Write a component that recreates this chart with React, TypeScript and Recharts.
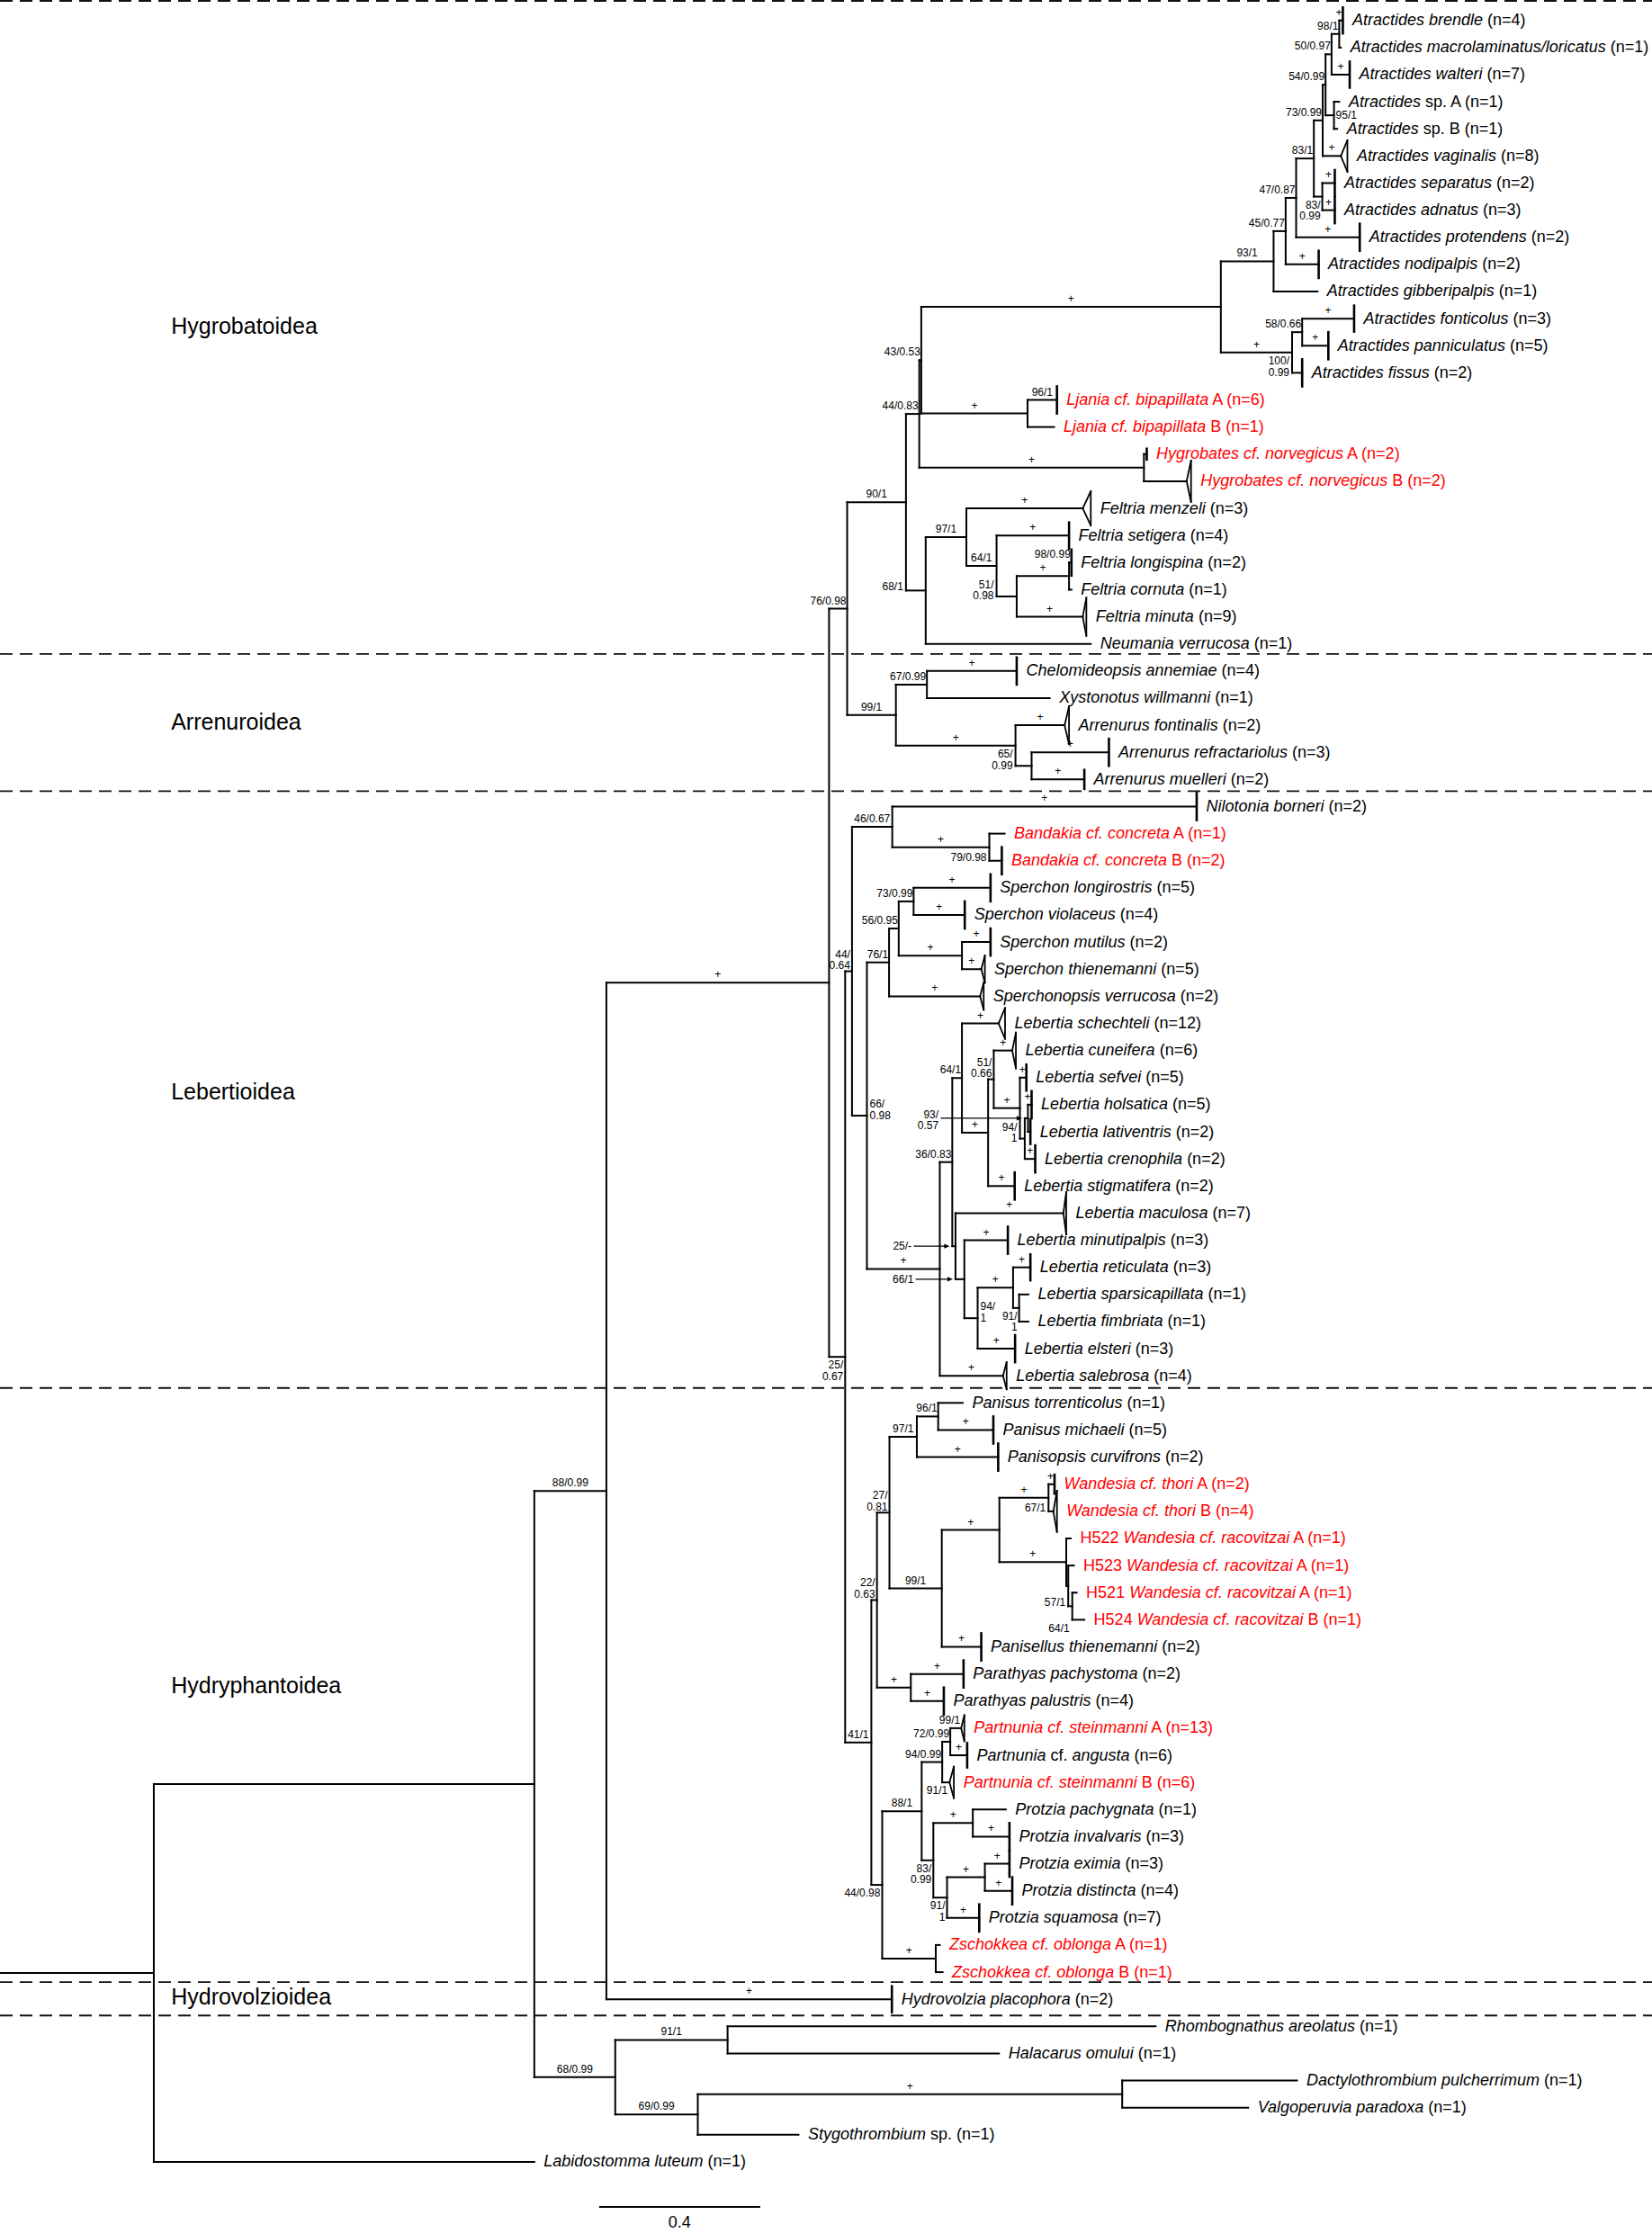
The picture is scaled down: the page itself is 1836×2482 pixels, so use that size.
import React from "react";
import { ScatterChart, XAxis, YAxis, ReferenceLine, Scatter } from "recharts";

const CHART_W = 1836;
const CHART_H = 2482;
const X_MAX = 4.1028; // branch-length units across the full width
const ROW_MIN = -0.7534;
const ROW_MAX = 81.623;
const PXU = CHART_W / X_MAX;
const FONT = '"Liberation Sans", Arial, Helvetica, sans-serif';
const RED = "#ff0000";

// ---------- leaves (terminal taxa, top to bottom); *...* = italic ----------
const leafNames: string[] = [
  "*Atractides brendle* (n=4)",
  "*Atractides macrolaminatus/loricatus* (n=1)",
  "*Atractides walteri* (n=7)",
  "*Atractides* sp. A (n=1)",
  "*Atractides* sp. B (n=1)",
  "*Atractides vaginalis* (n=8)",
  "*Atractides separatus* (n=2)",
  "*Atractides adnatus* (n=3)",
  "*Atractides protendens* (n=2)",
  "*Atractides nodipalpis* (n=2)",
  "*Atractides gibberipalpis* (n=1)",
  "*Atractides fonticolus* (n=3)",
  "*Atractides panniculatus* (n=5)",
  "*Atractides fissus* (n=2)",
  "*Ljania cf. bipapillata* A (n=6)",
  "*Ljania cf. bipapillata* B (n=1)",
  "*Hygrobates cf. norvegicus* A (n=2)",
  "*Hygrobates cf. norvegicus* B (n=2)",
  "*Feltria menzeli* (n=3)",
  "*Feltria setigera* (n=4)",
  "*Feltria longispina* (n=2)",
  "*Feltria cornuta* (n=1)",
  "*Feltria minuta* (n=9)",
  "*Neumania verrucosa* (n=1)",
  "*Chelomideopsis annemiae* (n=4)",
  "*Xystonotus willmanni* (n=1)",
  "*Arrenurus fontinalis* (n=2)",
  "*Arrenurus refractariolus* (n=3)",
  "*Arrenurus muelleri* (n=2)",
  "*Nilotonia borneri* (n=2)",
  "*Bandakia cf. concreta* A (n=1)",
  "*Bandakia cf. concreta* B (n=2)",
  "*Sperchon longirostris* (n=5)",
  "*Sperchon violaceus* (n=4)",
  "*Sperchon mutilus* (n=2)",
  "*Sperchon thienemanni* (n=5)",
  "*Sperchonopsis verrucosa* (n=2)",
  "*Lebertia schechteli* (n=12)",
  "*Lebertia cuneifera* (n=6)",
  "*Lebertia sefvei* (n=5)",
  "*Lebertia holsatica* (n=5)",
  "*Lebertia lativentris* (n=2)",
  "*Lebertia crenophila* (n=2)",
  "*Lebertia stigmatifera* (n=2)",
  "*Lebertia maculosa* (n=7)",
  "*Lebertia minutipalpis* (n=3)",
  "*Lebertia reticulata* (n=3)",
  "*Lebertia sparsicapillata* (n=1)",
  "*Lebertia fimbriata* (n=1)",
  "*Lebertia elsteri* (n=3)",
  "*Lebertia salebrosa* (n=4)",
  "*Panisus torrenticolus* (n=1)",
  "*Panisus michaeli* (n=5)",
  "*Panisopsis curvifrons* (n=2)",
  "*Wandesia cf. thori* A (n=2)",
  "*Wandesia cf. thori* B (n=4)",
  "H522 *Wandesia cf. racovitzai* A (n=1)",
  "H523 *Wandesia cf. racovitzai* A (n=1)",
  "H521 *Wandesia cf. racovitzai* A (n=1)",
  "H524 *Wandesia cf. racovitzai* B (n=1)",
  "*Panisellus thienemanni* (n=2)",
  "*Parathyas pachystoma* (n=2)",
  "*Parathyas palustris* (n=4)",
  "*Partnunia cf. steinmanni* A (n=13)",
  "*Partnunia* cf. *angusta* (n=6)",
  "*Partnunia cf. steinmanni* B (n=6)",
  "*Protzia pachygnata* (n=1)",
  "*Protzia invalvaris* (n=3)",
  "*Protzia eximia* (n=3)",
  "*Protzia distincta* (n=4)",
  "*Protzia squamosa* (n=7)",
  "*Zschokkea cf. oblonga* A (n=1)",
  "*Zschokkea cf. oblonga* B (n=1)",
  "*Hydrovolzia placophora* (n=2)",
  "*Rhombognathus areolatus* (n=1)",
  "*Halacarus omului* (n=1)",
  "*Dactylothrombium pulcherrimum* (n=1)",
  "*Valgoperuvia paradoxa* (n=1)",
  "*Stygothrombium* sp. (n=1)",
  "*Labidostomma luteum* (n=1)",
];

const redLeaves: number[] = [14, 15, 16, 17, 30, 31, 54, 55, 56, 57, 58, 59, 63, 65, 71, 72];

// depth (distance from left edge, substitutions/site) of each leaf tip
const leafDepths: number[] = [
  3.335, 3.33, 3.352, 3.326, 3.321, 3.33, 3.315, 3.315, 3.377, 3.275,
  3.272, 3.363, 3.299, 3.234, 2.625, 2.618, 2.848, 2.947, 2.689, 2.655,
  2.661, 2.661, 2.689, 2.709, 2.525, 2.607, 2.644, 2.754, 2.693, 2.972,
  2.495, 2.488, 2.46, 2.396, 2.46, 2.437, 2.434, 2.48, 2.514, 2.549,
  2.562, 2.559, 2.571, 2.52, 2.641, 2.503, 2.559, 2.554, 2.554, 2.521,
  2.491, 2.391, 2.467, 2.479, 2.619, 2.616, 2.659, 2.667, 2.674, 2.693,
  2.437, 2.393, 2.344, 2.387, 2.402, 2.358, 2.498, 2.507, 2.507, 2.514,
  2.432, 2.334, 2.341, 2.215, 2.87, 2.481, 3.221, 3.1, 1.983, 1.327,
];

// collapsed clades: [leaf, triangle depth (units), half height (rows)]; depth 0 = bar
const collapsedClades: [number, number, number][] = [
  [0, 0, 0.48], [2, 0, 0.48], [5, 0.0163, 0.58], [6, 0, 0.48], [7, 0, 0.48], [8, 0, 0.5],
  [9, 0, 0.5], [11, 0, 0.48], [12, 0, 0.5], [13, 0, 0.5], [14, 0, 0.5], [16, 0, 0.2],
  [17, 0.011, 0.76], [18, 0.02, 0.63], [19, 0, 0.48], [20, 0, 0.48], [22, 0.009, 0.7],
  [24, 0, 0.5], [26, 0.011, 0.7], [27, 0, 0.5], [28, 0, 0.35], [29, 0, 0.5], [31, 0, 0.5],
  [32, 0, 0.5], [33, 0, 0.5], [34, 0, 0.5], [35, 0.009, 0.5], [36, 0.009, 0.5],
  [37, 0.016, 0.57], [38, 0.009, 0.66], [39, 0, 0.48], [40, 0, 0.5], [41, 0, 0.45],
  [42, 0, 0.5], [43, 0, 0.5], [44, 0.007, 0.78], [45, 0, 0.5], [46, 0, 0.48], [49, 0, 0.5],
  [50, 0.009, 0.5], [52, 0, 0.5], [53, 0, 0.5], [54, 0, 0.35], [55, 0.009, 0.76],
  [60, 0, 0.5], [61, 0, 0.5], [62, 0, 0.5], [63, 0.008, 0.48], [64, 0, 0.45],
  [65, 0.011, 0.58], [67, 0, 0.5], [68, 0, 0.48], [69, 0, 0.5], [70, 0, 0.5], [73, 0, 0.48],
];

// internal nodes: [id, depth, children]  (numbers = leaf rows)
const internalNodes: [string, number, (string | number)[]][] = [
  ["root", 0.382, ["A", 79]],
  ["A", 1.327, ["B", "C"]],
  ["B", 1.506, ["W", 73]],
  ["C", 1.528, ["D", "E"]],
  ["D", 1.807, [74, 75]],
  ["E", 1.733, ["DV", 78]],
  ["DV", 2.787, [76, 77]],
  ["W", 2.059, ["H0", "L0"]],
  ["H0", 2.104, ["Hyg", "A0"]],
  ["Hyg", 2.25, ["X2", "F0"]],
  ["X2", 2.283, ["X1", "Hgb"]],
  ["X1", 2.288, ["AT0", "Lj"]],
  ["AT0", 3.032, ["P", "G"]],
  ["P", 3.163, ["Q", 10]],
  ["Q", 3.193, ["R", 9]],
  ["R", 3.219, ["S", 8]],
  ["S", 3.263, ["U", "T"]],
  ["U", 3.285, ["N54", 5]],
  ["N54", 3.292, ["N50", "N95"]],
  ["N50", 3.307, ["N98", 2]],
  ["N98", 3.326, [0, 1]],
  ["N95", 3.313, [3, 4]],
  ["T", 3.284, [6, 7]],
  ["G", 3.209, ["G1", 13]],
  ["G1", 3.234, [11, 12]],
  ["Lj", 2.552, [14, 15]],
  ["Hgb", 2.841, [16, 17]],
  ["F0", 2.299, ["F1", 23]],
  ["F1", 2.4, [18, "F2"]],
  ["F2", 2.475, [19, "F3"]],
  ["F3", 2.525, ["F4", 22]],
  ["F4", 2.655, [20, 21]],
  ["A0", 2.225, ["A1", "A2"]],
  ["A1", 2.302, [24, 25]],
  ["A2", 2.522, [26, "A3"]],
  ["A3", 2.562, [27, 28]],
  ["L0", 2.099, ["L1", "D0"]],
  ["L1", 2.116, ["L2", "L3"]],
  ["L2", 2.216, [29, "L4"]],
  ["L4", 2.457, [30, 31]],
  ["L3", 2.153, ["L5", "L6"]],
  ["L5", 2.208, ["L7", 36]],
  ["L7", 2.232, ["L8", "L9"]],
  ["L8", 2.269, [32, 33]],
  ["L9", 2.389, [34, 35]],
  ["L6", 2.334, ["L10", 50]],
  ["L10", 2.365, ["L11", "L12"]],
  ["L11", 2.389, [37, "L13"]],
  ["L13", 2.454, ["L14", 43]],
  ["L14", 2.468, [38, "L15"]],
  ["L15", 2.533, [39, "L16"]],
  ["L16", 2.545, ["N93", 42]],
  ["N93", 2.553, [40, 41]],
  ["L12", 2.373, [44, "L17"]],
  ["L17", 2.395, [45, "L18"]],
  ["L18", 2.428, ["L19", 49]],
  ["L19", 2.516, [46, "L20"]],
  ["L20", 2.531, [47, 48]],
  ["D0", 2.164, ["D1", "D2"]],
  ["D1", 2.178, ["D3", "D4"]],
  ["D3", 2.209, ["D5", "D6"]],
  ["D5", 2.277, ["D7", 53]],
  ["D7", 2.33, [51, 52]],
  ["D6", 2.339, ["D8", 60]],
  ["D8", 2.482, ["D9", "D10"]],
  ["D9", 2.604, [54, 55]],
  ["D10", 2.648, [56, "D11"]],
  ["D11", 2.653, [57, "D12"]],
  ["D12", 2.663, [58, 59]],
  ["D4", 2.262, [61, 62]],
  ["D2", 2.191, ["D13", "D14"]],
  ["D13", 2.289, ["D15", "D16"]],
  ["D15", 2.34, ["D17", 65]],
  ["D17", 2.36, [63, 64]],
  ["D16", 2.318, ["P1", "P3"]],
  ["P1", 2.416, [66, 67]],
  ["P3", 2.352, ["P2", 70]],
  ["P2", 2.446, [68, 69]],
  ["D14", 2.324, [71, 72]],
];

// support values (bootstrap / posterior): [node, text, placement, extra dy]
const supportLabels: [string | number, string, string, number?][] = [
  ["B", "88/0.99", "c"], ["C", "68/0.99", "c"], ["D", "91/1", "c"], ["E", "69/0.99", "c"],
  ["DV", "+", "c"], ["W", "+", "c"], [73, "+", "c"], ["H0", "76/0.98", "c"],
  ["Hyg", "90/1", "c"], ["X2", "44/0.83", "c"], ["X1", "43/0.53", "c"], ["AT0", "+", "c"],
  ["P", "93/1", "c"], ["Q", "45/0.77", "c"], ["R", "47/0.87", "c"], ["S", "83/1", "c"],
  ["U", "73/0.99", "c"], ["N54", "54/0.99", "c"], ["N50", "50/0.97", "c"], ["N98", "98/1", "c"],
  [0, "+", "c"], [2, "+", "c"], ["N95", "95/1", "n1"], [5, "+", "c"], ["T", "83/\n0.99", "rb"],
  [6, "+", "c"], [7, "+", "c"], [8, "+", "c"], [9, "+", "c"], ["G", "+", "c"],
  ["G1", "58/0.66", "c"], [11, "+", "c"], [12, "+", "c"], [13, "100/\n0.99", "pa2"],
  ["Lj", "+", "c"], [14, "96/1", "c"], ["Hgb", "+", "c"], ["F0", "68/1", "pa1"],
  ["F1", "97/1", "c"], [18, "+", "c"], [19, "+", "c"], ["F2", "64/1", "c"],
  ["F3", "51/\n0.98", "pa2"], ["F4", "+", "c"], [20, "98/0.99", "c"], [22, "+", "c"],
  ["A0", "99/1", "c"], ["A1", "67/0.99", "c"], [24, "+", "c"], ["A2", "+", "c"], [26, "+", "c"],
  ["A3", "65/\n0.99", "pa2"], [27, "+", "c"], [28, "+", "c"],
  ["L0", "25/\n0.67", "rb"], ["L1", "44/\n0.64", "ra2"], ["L2", "46/0.67", "c"], [29, "+", "c"],
  ["L4", "+", "c"], [31, "79/0.98", "pa1"], ["L3", "66/\n0.98", "na2"], ["L5", "76/1", "c"],
  ["L7", "56/0.95", "c"], ["L8", "73/0.99", "c"], [32, "+", "c"], [33, "+", "c"], ["L9", "+", "c"],
  [34, "+", "c"], [35, "+", "c"], [36, "+", "c"], ["L6", "+", "c"], ["L10", "36/0.83", "c"],
  ["L11", "64/1", "c"], [37, "+", "c"], ["L13", "+", "c"], ["L14", "51/\n0.66", "ra2"],
  [38, "+", "c"], ["L15", "+", "c"], [39, "+", "c"], [40, "+", "c"], [42, "+", "c"],
  ["L16", "94/\n1", "pa2"], [43, "+", "c"], [44, "+", "c"], [45, "+", "c"], ["L18", "94/\n1", "na2"],
  ["L19", "+", "c"], [46, "+", "c"], ["L20", "91/\n1", "rb"], [49, "+", "c"], [50, "+", "c"],
  ["D0", "41/1", "c"], ["D1", "22/\n0.63", "ra2"], ["D3", "27/\n0.81", "ra2"], ["D4", "+", "c"],
  [61, "+", "c"], [62, "+", "c"], ["D5", "97/1", "c"], ["D7", "96/1", "c"], [52, "+", "c"],
  [53, "+", "c"], ["D6", "99/1", "c"], ["D8", "+", "c"], ["D9", "+", "c"], [54, "+", "c"],
  [55, "67/1", "pa1"], ["D10", "+", "c"], ["D12", "57/1", "pa1"], [59, "64/1", "pa1", 14],
  [60, "+", "c"], ["D2", "44/0.98", "rb"], ["D13", "88/1", "c"], ["D15", "94/0.99", "c"],
  ["D17", "72/0.99", "c"], [63, "99/1", "c"], [64, "+", "c"], [65, "91/1", "rb"],
  ["D16", "83/\n0.99", "rb"], ["P1", "+", "c"], [67, "+", "c"], ["P3", "91/\n1", "rb"],
  ["P2", "+", "c"], [68, "+", "c"], [69, "+", "c"], [70, "+", "c"], ["D14", "+", "c"],
];

// support values drawn with a pointer arrow: [node, text, label right edge (units)]
const arrowLabels: [string, string, number][] = [
  ["N93", "93/\n0.57", 2.331],
  ["L12", "25/-", 2.264],
  ["L17", "66/1", 2.269],
];

const superfamilies: [string, number][] = [
  ["Hygrobatoidea", 11.27],
  ["Arrenuroidea", 25.88],
  ["Lebertioidea", 39.5],
  ["Hydryphantoidea", 61.42],
  ["Hydrovolzioidea", 72.9],
];
const superfamilyX = 0.425;

const separatorRows: number[] = [-0.72, 23.37, 28.43, 50.45, 72.37, 73.6];

const scaleBarStart = 1.488;
const scaleBarLength = 0.4;
const scaleBarRow = 80.66;

// ---------------- tree geometry from the data ----------------
const nodeMap = new Map(internalNodes.map((n) => [n[0], n]));
const keyOf = (c: string | number) => (typeof c === "number" ? "#" + c : c);
const parentOf: Record<string, string> = {};
internalNodes.forEach(([id, , ch]) => ch.forEach((c) => (parentOf[keyOf(c)] = id)));
const xOf = (k: string): number =>
  k.startsWith("#") ? leafDepths[+k.slice(1)] : (nodeMap.get(k) as any)[1];
const yCache: Record<string, number> = {};
const yOf = (k: string): number => {
  if (k.startsWith("#")) return +k.slice(1);
  if (yCache[k] !== undefined) return yCache[k];
  const ch = (nodeMap.get(k) as any)[2] as (string | number)[];
  const v = (yOf(keyOf(ch[0])) + yOf(keyOf(ch[ch.length - 1]))) / 2;
  yCache[k] = v;
  return v;
};

type Seg = { x1: number; y1: number; x2: number; y2: number; w: number };
const segments: Seg[] = [];
segments.push({ x1: 0, y1: yOf("root"), x2: xOf("root"), y2: yOf("root"), w: 2 });
internalNodes.forEach(([id, x, ch]) => {
  const ys = ch.map((c) => yOf(keyOf(c)));
  segments.push({ x1: x, y1: ys[0], x2: x, y2: ys[ys.length - 1], w: 2 });
  ch.forEach((c) => {
    const k = keyOf(c);
    segments.push({ x1: x, y1: yOf(k), x2: xOf(k), y2: yOf(k), w: 2 });
  });
});
const cladeWidth: Record<number, number> = {};
collapsedClades.forEach(([i, tw, th]) => {
  const x0 = leafDepths[i];
  cladeWidth[i] = tw;
  if (tw <= 0) {
    segments.push({ x1: x0, y1: i - th, x2: x0, y2: i + th, w: 2.6 });
  } else {
    segments.push({ x1: x0, y1: i, x2: x0 + tw, y2: i - th, w: 1.8 });
    segments.push({ x1: x0, y1: i, x2: x0 + tw, y2: i + th, w: 1.8 });
    segments.push({ x1: x0 + tw, y1: i - th, x2: x0 + tw, y2: i + th, w: 1.8 });
  }
});

const leafLabelData = leafNames.map((name, i) => ({
  x: leafDepths[i] + (cladeWidth[i] || 0),
  y: i,
  name,
  red: redLeaves.includes(i),
}));

const charW = (ch: string) =>
  ch >= "0" && ch <= "9" ? 6.67 : ch === "+" ? 7.0 : ch === "-" ? 4.0 : 3.33;
const textW = (s: string) => s.split("").reduce((a, c) => a + charW(c), 0);

const supportData = supportLabels.map(([target, text, mode, extra]) => {
  const k = keyOf(target);
  const nx = xOf(k);
  const ny = yOf(k);
  const px = xOf(parentOf[k]);
  const w = Math.max(...text.split("\n").map(textW));
  let x = nx, dx = 0, dy = -5, anchor = "middle";
  if (mode === "c") {
    x = Math.min((px + nx) / 2, nx - (1 + w / 2) / PXU);
  } else if (mode === "n1") {
    dx = 2; dy = 4; anchor = "start";
  } else if (mode === "pa1") {
    x = px; dx = -3; dy = 0; anchor = "end";
  } else if (mode === "pa2") {
    x = px; dx = -3; dy = -9; anchor = "end";
  } else if (mode === "na2") {
    dx = 3; dy = -9; anchor = "start";
  } else if (mode === "ra2") {
    dx = -2; dy = -15; anchor = "end";
  } else if (mode === "rb") {
    dx = -2; dy = 13; anchor = "end";
  }
  return { x, y: ny, text, dx, dy: dy + (extra || 0), anchor };
});

const arrowTextData = arrowLabels.map(([node, text, lx]) => ({
  x: lx,
  y: yOf(node),
  text,
  dx: 0,
  dy: text.includes("\n") ? 0 : 4.3,
  anchor: "end",
}));
const arrowTipData = arrowLabels.map(([node]) => ({
  x: xOf(parentOf[node]) - 3 / PXU,
  y: yOf(node),
}));
arrowLabels.forEach(([node, , lx], i) => {
  segments.push({ x1: lx + 3 / PXU, y1: yOf(node), x2: arrowTipData[i].x - 4 / PXU, y2: yOf(node), w: 1.3 });
});

const superfamilyData = superfamilies.map(([name, row]) => ({ x: superfamilyX, y: row, name }));
const scaleLabelData = [{ x: scaleBarStart + scaleBarLength / 2, y: scaleBarRow, name: String(scaleBarLength) }];

// ---------------- shapes ----------------
const LeafLabel = (p: any) => {
  const { cx, cy, payload } = p;
  const parts = String(payload.name).split("*");
  return (
    <text
      x={cx + 10.5}
      y={cy + 5.5}
      fontSize={18}
      fontFamily={FONT}
      fill={payload.red ? RED : "#000"}
      style={{ whiteSpace: "pre" }}
    >
      {parts.map((s: string, k: number) =>
        s ? (
          <tspan key={k} fontStyle={k % 2 === 1 ? "italic" : "normal"}>
            {s}
          </tspan>
        ) : null
      )}
    </text>
  );
};

const SupportLabel = (p: any) => {
  const { cx, cy, payload } = p;
  const lines = String(payload.text).split("\n");
  const x = cx + payload.dx;
  return (
    <text x={x} y={cy + payload.dy} textAnchor={payload.anchor} fontSize={12} fontFamily={FONT} fill="#000">
      {lines.map((l: string, k: number) => (
        <tspan key={k} x={x} dy={k === 0 ? 0 : 12.5}>
          {l}
        </tspan>
      ))}
    </text>
  );
};

const ArrowHead = (p: any) => {
  const { cx, cy } = p;
  return <polygon points={`${cx},${cy} ${cx - 6},${cy - 2.6} ${cx - 6},${cy + 2.6}`} fill="#000" />;
};

const SuperfamilyLabel = (p: any) => {
  const { cx, cy, payload } = p;
  return (
    <text x={cx} y={cy + 9} fontSize={25} fontFamily={FONT} fill="#000">
      {payload.name}
    </text>
  );
};

const ScaleLabel = (p: any) => {
  const { cx, cy, payload } = p;
  return (
    <text x={cx} y={cy + 23.5} textAnchor="middle" fontSize={18} fontFamily={FONT} fill="#000">
      {payload.name}
    </text>
  );
};

export default function App() {
  return (
    <div style={{ position: "absolute", left: 0, top: 0, width: CHART_W, height: CHART_H, background: "#fff" }}>
      <ScatterChart width={CHART_W} height={CHART_H} margin={{ top: 0, right: 0, bottom: 0, left: 0 }}>
        <XAxis type="number" dataKey="x" domain={[0, X_MAX]} hide allowDataOverflow height={0} />
        <YAxis type="number" dataKey="y" domain={[ROW_MIN, ROW_MAX]} reversed hide allowDataOverflow width={0} />
        {separatorRows.map((r) => (
          <ReferenceLine key={"sep" + r} y={r} stroke="#111" strokeWidth={1.8} strokeDasharray="14 8" />
        ))}
        {segments.map((s, i) => (
          <ReferenceLine
            key={"seg" + i}
            segment={[
              { x: s.x1, y: s.y1 },
              { x: s.x2, y: s.y2 },
            ]}
            stroke="#000"
            strokeWidth={s.w}
            strokeLinecap="square"
          />
        ))}
        <ReferenceLine
          segment={[
            { x: scaleBarStart, y: scaleBarRow },
            { x: scaleBarStart + scaleBarLength, y: scaleBarRow },
          ]}
          stroke="#000"
          strokeWidth={2}
        />
        <Scatter data={leafLabelData} shape={LeafLabel} isAnimationActive={false} />
        <Scatter data={supportData} shape={SupportLabel} isAnimationActive={false} />
        <Scatter data={arrowTextData} shape={SupportLabel} isAnimationActive={false} />
        <Scatter data={arrowTipData} shape={ArrowHead} isAnimationActive={false} />
        <Scatter data={superfamilyData} shape={SuperfamilyLabel} isAnimationActive={false} />
        <Scatter data={scaleLabelData} shape={ScaleLabel} isAnimationActive={false} />
      </ScatterChart>
    </div>
  );
}
